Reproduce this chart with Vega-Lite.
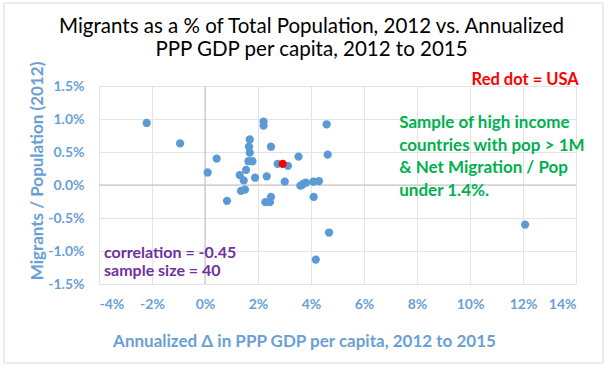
{
  "$schema": "https://vega.github.io/schema/vega-lite/v6.json",
  "width": 477,
  "height": 198,
  "autosize": {"type": "none"},
  "padding": {"left": 99, "top": 86, "right": 34, "bottom": 85},
  "background": "white",
  "title": {
    "text": ["Migrants as a % of Total Population, 2012 vs. Annualized", "PPP GDP per capita, 2012 to 2015"],
    "font": "Lato",
    "fontSize": 20.5,
    "fontWeight": "normal",
    "color": "#000000",
    "anchor": "middle",
    "frame": "group",
    "dx": -26,
    "dy": 62,
    "lineHeight": 22.5,
    "offset": 4
  },
  "layer": [
    {
      "data": {"values": [{}]},
      "mark": {"type": "rect", "fill": null, "stroke": "#D9D9D9", "strokeWidth": 1, "clip": false},
      "encoding": {
        "x": {
          "datum": -7.585,
          "type": "quantitative",
          "scale": {"domain": [-4, 14], "nice": false, "zero": false},
          "axis": {
            "title": "Annualized Δ in PPP GDP per capita, 2012 to 2015",
            "values": [-4, -2, 0, 2, 4, 6, 8, 10, 12, 14],
            "tickCount": 20,
            "labelExpr": "datum.value + '%'",
            "titleX": 205,
            "titleY": 62,
            "titleBaseline": "alphabetic",
            "titleAnchor": null
          }
        },
        "x2": {"datum": 15.02},
        "y": {
          "datum": 2.758,
          "type": "quantitative",
          "scale": {"domain": [-1.5, 1.5], "nice": false, "zero": false},
          "axis": {
            "title": "Migrants / Population (2012)",
            "values": [-1.5, -1, -0.5, 0, 0.5, 1, 1.5],
            "tickCount": 20,
            "labelExpr": "(datum.value < 0 ? '-' : '') + format(abs(datum.value), '.1f') + '%'",
            "labelOverlap": false,
            "titleX": -57,
            "titleY": 84.5,
            "titleAngle": -90,
            "titleBaseline": "alphabetic",
            "titleAlign": "center",
            "labelPadding": 15
          }
        },
        "y2": {"datum": -2.697}
      }
    },
    {
      "data": {"values": [{}]},
      "mark": {"type": "rule", "color": "#BFBFBF", "strokeWidth": 1},
      "encoding": {"x": {"datum": 0, "type": "quantitative"}}
    },
    {
      "data": {"values": [{}]},
      "mark": {"type": "rule", "color": "#BFBFBF", "strokeWidth": 1},
      "encoding": {"y": {"datum": 0, "type": "quantitative"}}
    },
    {
      "data": {
        "values": [
          {"gdp": -2.20, "mig": 0.94, "group": "Other"},
          {"gdp": -0.94, "mig": 0.63, "group": "Other"},
          {"gdp": 0.44, "mig": 0.40, "group": "Other"},
          {"gdp": 0.10, "mig": 0.19, "group": "Other"},
          {"gdp": 0.83, "mig": -0.24, "group": "Other"},
          {"gdp": 1.31, "mig": 0.15, "group": "Other"},
          {"gdp": 1.46, "mig": 0.07, "group": "Other"},
          {"gdp": 1.36, "mig": -0.09, "group": "Other"},
          {"gdp": 1.51, "mig": -0.07, "group": "Other"},
          {"gdp": 1.55, "mig": 0.23, "group": "Other"},
          {"gdp": 1.69, "mig": 0.69, "group": "Other"},
          {"gdp": 1.66, "mig": 0.58, "group": "Other"},
          {"gdp": 1.69, "mig": 0.49, "group": "Other"},
          {"gdp": 1.64, "mig": 0.36, "group": "Other"},
          {"gdp": 1.79, "mig": 0.36, "group": "Other"},
          {"gdp": 1.89, "mig": 0.11, "group": "Other"},
          {"gdp": 2.21, "mig": 0.96, "group": "Other"},
          {"gdp": 2.21, "mig": 0.90, "group": "Other"},
          {"gdp": 2.33, "mig": 0.13, "group": "Other"},
          {"gdp": 2.49, "mig": 0.58, "group": "Other"},
          {"gdp": 2.28, "mig": -0.26, "group": "Other"},
          {"gdp": 2.49, "mig": -0.18, "group": "Other"},
          {"gdp": 2.45, "mig": -0.26, "group": "Other"},
          {"gdp": 2.74, "mig": 0.32, "group": "Other"},
          {"gdp": 3.13, "mig": 0.29, "group": "Other"},
          {"gdp": 3.01, "mig": 0.05, "group": "Other"},
          {"gdp": 3.53, "mig": 0.43, "group": "Other"},
          {"gdp": 3.60, "mig": -0.01, "group": "Other"},
          {"gdp": 3.66, "mig": 0.00, "group": "Other"},
          {"gdp": 3.71, "mig": 0.02, "group": "Other"},
          {"gdp": 3.81, "mig": 0.035, "group": "Other"},
          {"gdp": 4.09, "mig": 0.05, "group": "Other"},
          {"gdp": 4.30, "mig": 0.06, "group": "Other"},
          {"gdp": 4.10, "mig": -0.18, "group": "Other"},
          {"gdp": 4.59, "mig": 0.92, "group": "Other"},
          {"gdp": 4.63, "mig": 0.46, "group": "Other"},
          {"gdp": 4.68, "mig": -0.72, "group": "Other"},
          {"gdp": 4.18, "mig": -1.13, "group": "Other"},
          {"gdp": 12.08, "mig": -0.60, "group": "Other"},
          {"gdp": 2.93, "mig": 0.32, "group": "USA"}
        ]
      },
      "mark": {"type": "circle", "size": 68, "opacity": 1},
      "encoding": {
        "x": {"field": "gdp", "type": "quantitative"},
        "y": {"field": "mig", "type": "quantitative"},
        "color": {
          "field": "group",
          "type": "nominal",
          "scale": {"domain": ["Other", "USA"], "range": ["#5B9BD5", "#FF0000"]},
          "legend": null
        }
      }
    },
    {
      "data": {"values": [{}]},
      "mark": {"type": "text", "text": "Red dot = USA", "font": "Lato", "fontSize": 16.5, "fontWeight": "bold", "color": "#FF0000", "align": "left", "baseline": "alphabetic", "clip": false},
      "encoding": {"x": {"datum": 10.06, "type": "quantitative"}, "y": {"datum": 1.515, "type": "quantitative"}}
    },
    {
      "data": {"values": [{}]},
      "mark": {"type": "text", "text": ["Sample of high income", "countries with pop > 1M", "& Net Migration / Pop", "under 1.4%."], "font": "Lato", "fontSize": 17, "fontWeight": "bold", "color": "#00B050", "align": "left", "baseline": "alphabetic", "lineHeight": 22.5},
      "encoding": {"x": {"datum": 7.33, "type": "quantitative"}, "y": {"datum": 0.859, "type": "quantitative"}}
    },
    {
      "data": {"values": [{}]},
      "mark": {"type": "text", "text": ["correlation = -0.45", "sample size = 40"], "font": "Lato", "fontSize": 16, "fontWeight": "bold", "color": "#7030A0", "align": "left", "baseline": "alphabetic", "lineHeight": 17.5},
      "encoding": {"x": {"datum": -3.81, "type": "quantitative"}, "y": {"datum": -1.111, "type": "quantitative"}}
    }
  ],
  "config": {
    "view": {"stroke": null},
    "axis": {
      "domain": false,
      "ticks": false,
      "grid": true,
      "gridColor": "#E3E3E3",
      "gridWidth": 1,
      "labelOverlap": false,
      "labelFont": "Lato",
      "labelFontSize": 14,
      "labelFontWeight": "bold",
      "labelColor": "#6A9FD6",
      "titleFont": "Lato",
      "titleFontSize": 17,
      "titleFontWeight": "bold",
      "titleColor": "#6A9FD6"
    },
    "axisX": {"labelPadding": 13}
  }
}
